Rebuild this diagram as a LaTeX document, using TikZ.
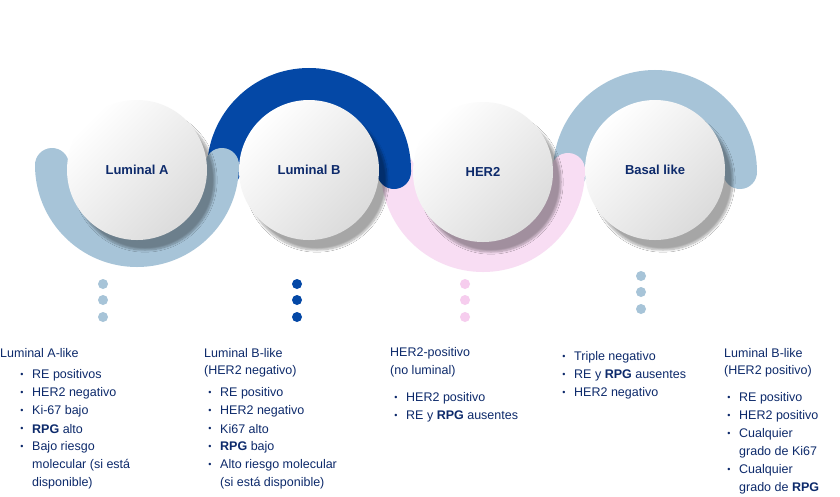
\documentclass[tikz,border=0pt]{standalone}
\usepackage{fontspec}
\setmainfont{Liberation Sans}
\usetikzlibrary{shadows.blur}
\definecolor{navy}{HTML}{0D2A6B}
\definecolor{lblue}{HTML}{A7C4D8}
\definecolor{dblue}{HTML}{0448A6}
\definecolor{pinkc}{HTML}{F8DDF3}
\definecolor{dotpink}{HTML}{F6CDEE}
\tikzset{
  band/.style={line width=34pt,line cap=round},
  ball/.style={circle,minimum size=140pt,inner sep=0pt,shading=axis,left color=white,right color=black!14,shading angle=45,
     font=\fontsize{13}{15}\selectfont\bfseries,text=navy,blur shadow={shadow xshift=8pt,shadow yshift=-10pt,shadow blur steps=10,shadow opacity=35}},
  dot/.style={circle,minimum size=10pt,inner sep=0pt},
  txt/.style={anchor=west,inner sep=0pt,font=\fontsize{12.5}{14}\selectfont,text=navy},
  bul/.style={anchor=center,inner sep=0pt,font=\fontsize{9}{10}\selectfont,text=navy}
}
\newcommand{\itm}[4]{\node[bul] at (#1,#3) {\textbullet}; \node[txt] at (#2,#3) {#4};}
\begin{document}
\begin{tikzpicture}[x=1pt,y=-1pt]
\useasboundingbox[fill=white] (0,0) rectangle (840,496);
% bands
\draw[band,lblue] (570,172) arc[start angle=180,end angle=360,radius=85];
\draw[band,pinkc] (398,170) arc[start angle=180,end angle=0,radius=85];
\draw[band,dblue] (224,170) arc[start angle=180,end angle=360,radius=85] -- (394,172);
\draw[band,lblue] (52,165) arc[start angle=180,end angle=0,radius=85];
% balls
\node[ball] (a) at (137,170) {Luminal A};
\node[ball] (b) at (309,170) {Luminal B};
\node[ball] (c) at (483,172) {HER2};
\node[ball] (d) at (655,170) {Basal like};
% dots
\foreach \y [count=\i] in {284,300,317}{
  \node[dot,fill=lblue] (da\i) at (103,\y) {};
  \node[dot,fill=dblue] (db\i) at (297,\y) {};
  \node[dot,fill=dotpink] (dc\i) at (465,\y) {};
  \node[dot,fill=lblue] (dd\i) at (641,\y-8) {};
}
% column 1
\node[txt] (t1) at (0,353) {Luminal A-like};
\itm{22}{32}{375}{RE positivos}
\itm{22}{32}{393}{HER2 negativo}
\itm{22}{32}{411}{Ki-67 bajo}
\itm{22}{32}{429}{\textbf{RPG} alto}
\itm{22}{32}{447}{Bajo riesgo}
\node[txt] at (32,465) {molecular (si está};
\node[txt] at (32,483) {disponible)};
% column 2
\node[txt] (t2) at (204,353) {Luminal B-like};
\node[txt] at (204,371) {(HER2 negativo)};
\itm{210}{220}{393}{RE positivo}
\itm{210}{220}{411}{HER2 negativo}
\itm{210}{220}{429}{Ki67 alto}
\itm{210}{220}{447}{\textbf{RPG} bajo}
\itm{210}{220}{465}{Alto riesgo molecular}
\node[txt] at (220,483) {(si está disponible)};
% column 3
\node[txt] (t3) at (390,353) {HER2-positivo};
\node[txt] at (390,371) {(no luminal)};
\itm{396}{406}{398}{HER2 positivo}
\itm{396}{406}{416}{RE y \textbf{RPG} ausentes}
% column 4
\itm{564}{574}{357}{Triple negativo}
\itm{564}{574}{375}{RE y \textbf{RPG} ausentes}
\itm{564}{574}{393}{HER2 negativo}
% column 5
\node[txt] (t5) at (724,353) {Luminal B-like};
\node[txt] at (724,371) {(HER2 positivo)};
\itm{729}{739}{398}{RE positivo}
\itm{729}{739}{416}{HER2 positivo}
\itm{729}{739}{434}{Cualquier}
\node[txt] at (739,452) {grado de Ki67};
\itm{729}{739}{470}{Cualquier}
\node[txt] at (739,488) {grado de \textbf{RPG}};
\end{tikzpicture}
\end{document}
